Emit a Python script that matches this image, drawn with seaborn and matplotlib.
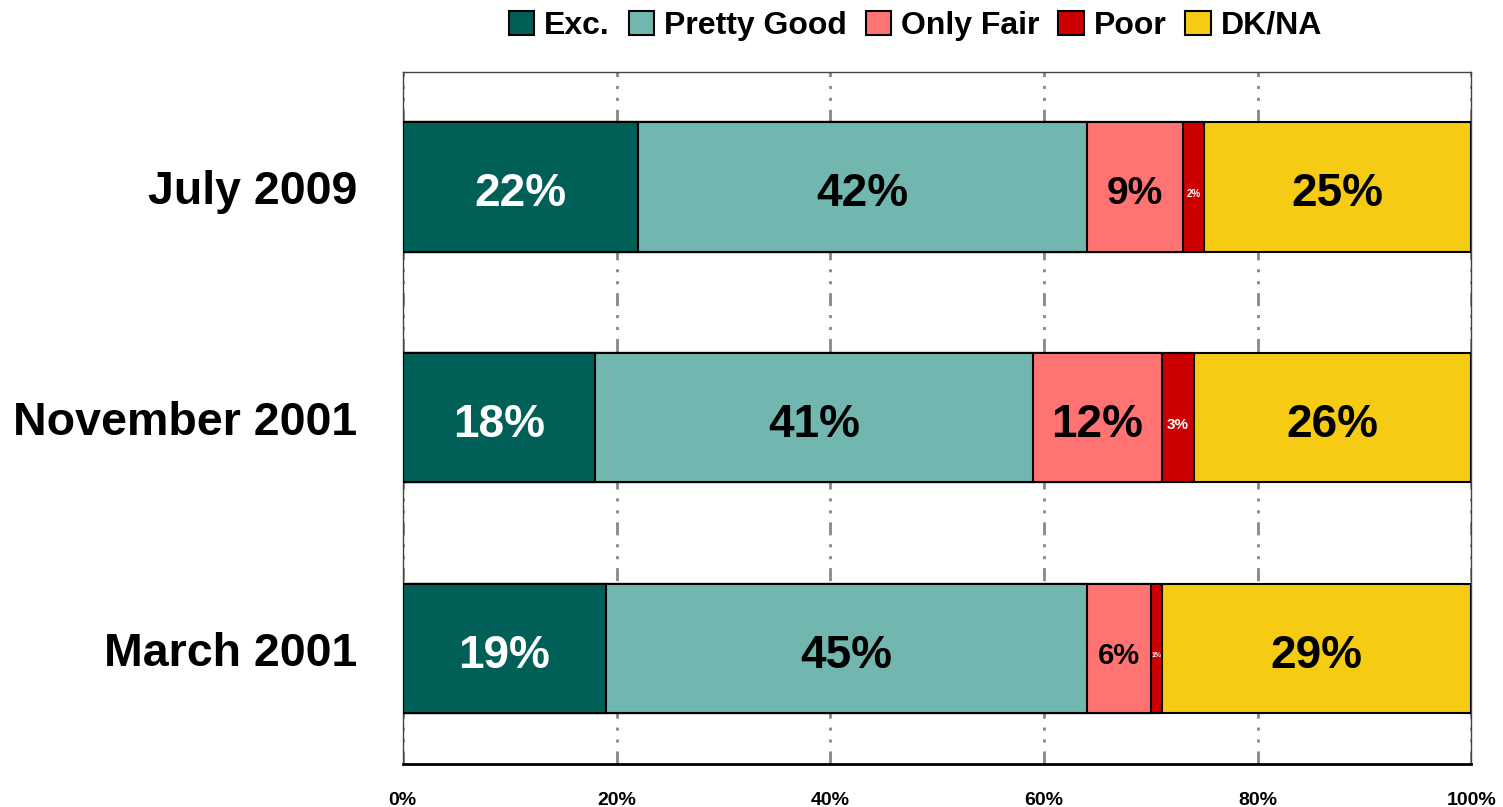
import numpy as np
import pandas as pd
import seaborn as sns
import matplotlib.pyplot as plt
from matplotlib.patches import Patch

# survey periods (top to bottom) and response shares
periods = ['July 2009', 'November 2001', 'March 2001']
categories = ['Exc.', 'Pretty Good', 'Only Fair', 'Poor', 'DK/NA']
exc = [22, 18, 19]
pretty_good = [42, 41, 45]
only_fair = [9, 12, 6]
poor = [2, 3, 1]
dk_na = [25, 26, 29]

colors = ['#005F56', '#72B7AF', '#FF7373', '#CC0000', '#F5CB14']
text_colors = ['white', 'black', 'black', 'white', 'black']

sns.set_style('white')
plt.rcParams['font.family'] = ['Liberation Sans', 'DejaVu Sans']
plt.rcParams['font.weight'] = 'bold'
plt.rcParams['text.color'] = 'black'
plt.rcParams['xtick.color'] = 'black'
plt.rcParams['ytick.color'] = 'black'

df = pd.DataFrame({'period': periods, 'Exc.': exc, 'Pretty Good': pretty_good,
                   'Only Fair': only_fair, 'Poor': poor, 'DK/NA': dk_na})
values = df[categories].to_numpy(dtype=float)
cum = values.cumsum(axis=1)

fig = plt.figure(figsize=(15.03, 8.07), dpi=100)
ax = fig.add_axes([0.268, 0.0533, 0.711, 0.858])

# stacked bars: draw cumulative totals from the widest to the narrowest
for i in range(len(categories) - 1, -1, -1):
    sns.barplot(x=cum[:, i], y=df['period'], orient='h', color=colors[i],
                edgecolor='black', linewidth=1.5, width=0.56, saturation=1,
                ax=ax, zorder=3)

# segment labels
poor_sizes = {2: 7, 1: 5, 3: 11}
for r in range(len(periods)):
    for i in range(len(categories)):
        v = values[r, i]
        x = cum[r, i] - v / 2
        fs = 33
        if i == 3:
            fs = poor_sizes.get(int(v), 11)
        elif i == 2 and v < 8:
            fs = 21
        elif i == 2 and v < 10:
            fs = 28
        ax.text(x, r + 0.03, f'{int(v)}%', ha='center', va='center',
                color=text_colors[i], fontsize=fs, fontweight='bold', zorder=4)

ax.set_xlim(0, 100)
ax.set_ylim(2.5, -0.5)
ax.set_xticks(np.arange(0, 101, 20))
ax.set_xticklabels([f'{t}%' for t in range(0, 101, 20)], fontsize=14, fontweight='bold')
ax.tick_params(axis='x', length=6, width=1.5, color='black', pad=14, direction='out')
ax.tick_params(axis='y', length=0, pad=33, labelsize=33.5)
for lab in ax.get_yticklabels():
    lab.set_fontweight('bold')
ax.set_xlabel('')
ax.set_ylabel('')

ax.grid(False)
for x in [0, 20, 40, 60, 80, 100]:
    ax.axvline(x, color='#888888', linewidth=2,
               linestyle=(0, (4.7, 3.2, 1.1, 3.2, 1.1, 3.2)), zorder=1)

for side in ['top', 'left', 'right']:
    ax.spines[side].set_color('#444444')
    ax.spines[side].set_linewidth(1)
ax.spines['bottom'].set_color('black')
ax.spines['bottom'].set_linewidth(2)

handles = [Patch(facecolor=c, edgecolor='black', linewidth=1.5) for c in colors]
fig.legend(handles, categories, loc='center', bbox_to_anchor=(0.609, 0.968), ncol=5,
           frameon=False, handlelength=0.8, handleheight=0.8,
           handletextpad=0.3, columnspacing=0.6, prop={'weight': 'bold', 'size': 23})

fig.savefig('out.png', dpi=100)
